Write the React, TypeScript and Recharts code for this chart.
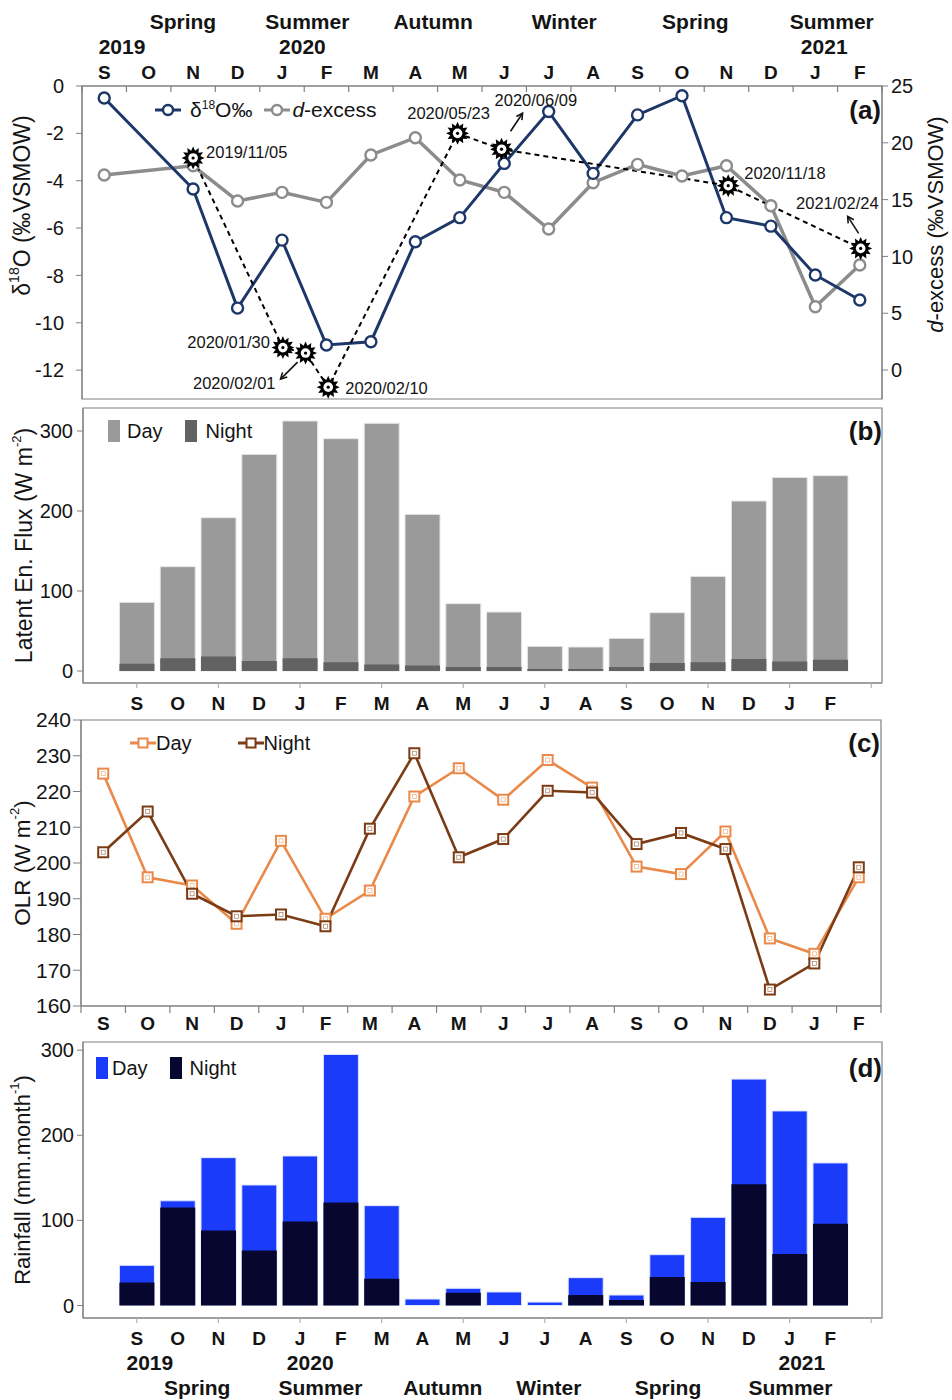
import React from 'react';
import { ComposedChart, Line, Bar, XAxis, YAxis, ReferenceArea, Legend } from 'recharts';

// ---------------- data ----------------
const months = ['S', 'O', 'N', 'D', 'J', 'F', 'M', 'A', 'M', 'J', 'J', 'A', 'S', 'O', 'N', 'D', 'J', 'F'];
const d18O = [-0.51, null, -4.35, -9.38, -6.51, -10.94, -10.8, -6.58, -5.56, -3.27, -1.08, -3.69, -1.22, -0.41, -5.56, -5.92, -7.98, -9.04];
const dExcess = [17.17, null, 17.98, 14.88, 15.64, 14.76, 18.93, 20.45, 16.73, 15.64, 12.41, 16.49, 18.1, 17.08, 17.98, 14.46, 5.57, 9.24];
const eventDates = ['2019/11/05', '2020/01/30', '2020/02/01', '2020/02/10', '2020/05/23', '2020/06/09', '2020/11/18', '2021/02/24'];
const eventMonthPos = [2.0, 4.02, 4.53, 5.04, 7.95, 8.94, 14.04, 17.02];
const eventD18O = [-3.04, -11.05, -11.28, -12.72, -2.0, -2.67, -4.21, -6.86];
const latentDay = [85.8, 130.4, 191.6, 270.8, 312.5, 290.4, 309.6, 195.8, 84.2, 73.7, 30.8, 30, 40.8, 72.9, 118.3, 212.5, 242, 244.2];
const latentNight = [9, 16, 18, 12.5, 16, 11, 8, 7, 5, 5, 2.5, 2.5, 5, 10, 11, 15, 12, 14];
const olrDay = [225, 196, 193.7, 183, 206.2, 184.4, 192.3, 218.6, 226.5, 217.7, 228.8, 221.1, 199, 196.9, 208.8, 178.9, 174.6, 196];
const olrNight = [203, 214.4, 191.4, 185.1, 185.6, 182.3, 209.6, 230.7, 201.6, 206.7, 220.2, 219.7, 205.3, 208.4, 203.9, 164.6, 171.9, 198.8];
const rainDay = [47.2, 123, 173.7, 141.6, 175.7, 295, 117.3, 7.6, 20.2, 15.9, 4, 32.7, 12.3, 59.7, 103.6, 266, 228.6, 167.5];
const rainNight = [27, 115, 88, 64.5, 98.7, 121, 31.3, 0, 15, 0, 0, 12.3, 6.5, 33.5, 27.6, 142.4, 60.5, 96];
const years = ['2019', '2020', '2021'];
const seasons = ['Spring', 'Summer', 'Autumn', 'Winter', 'Spring', 'Summer'];

// label placement (month-index units along the axis)
const TOP_YEAR_AT = [0.4, 4.46, 16.2];
const TOP_SEASON_AT = [1.77, 4.57, 7.4, 10.35, 13.3, 16.37];
const BOTTOM_YEAR_AT = [0.32, 4.25, 16.3];
const BOTTOM_SEASON_AT = [1.48, 4.5, 7.5, 10.1, 13.02, 16.02];

// ---------------- tables ----------------
const isoRows = months.map((m, i) => ({ x: i, month: m, d18O: d18O[i], dex: dExcess[i] }));
const eventRows = eventDates.map((d, i) => ({ x: eventMonthPos[i], v: eventD18O[i], date: d }));
const latentRows = months.map((m, i) => ({ x: i, month: m, day: latentDay[i], night: latentNight[i] }));
const olrRows = months.map((m, i) => ({ x: i, month: m, day: olrDay[i], night: olrNight[i] }));
const rainRows = months.map((m, i) => ({ x: i, month: m, day: rainDay[i], night: rainNight[i] }));

// ---------------- styles ----------------
const FONT = '"Liberation Sans", Arial, Helvetica, sans-serif';
const INK = '#141414';
const AXIS = '#808080';
const NAVY = '#1c3768';
const GRAY = '#8c8c8c';
const ORANGE = '#e98a4a';
const BROWN = '#7b3b14';
const LAT_DAY = '#9a9a9a';
const LAT_NIGHT = '#626262';
const RAIN_DAY = '#1a3cfa';
const RAIN_NIGHT = '#06062e';

const EVENT_LABEL: Record<string, { dx: number; dy: number; anchor: 'start' | 'middle' | 'end'; arrow?: number[] }> = {
  '2019/11/05': { dx: 13, dy: -6, anchor: 'start' },
  '2020/01/30': { dx: -13, dy: -6, anchor: 'end' },
  '2020/02/01': { dx: -30, dy: 30, anchor: 'end', arrow: [-8, 9, -25, 26] },
  '2020/02/10': { dx: 17, dy: 1, anchor: 'start' },
  '2020/05/23': { dx: -9, dy: -20, anchor: 'middle' },
  '2020/06/09': { dx: -7, dy: -49, anchor: 'start', arrow: [9, -18, 21, -36] },
  '2020/11/18': { dx: 16, dy: -13, anchor: 'start' },
  '2021/02/24': { dx: 18, dy: -45, anchor: 'end', arrow: [-2, -15, -13, -32] },
};

const near = (a: number, b: number) => Math.abs(a - b) < 1e-6;
const isCenter = (v: number) => near(v, Math.round(v));
const centers = months.map((_, i) => i);
const edges = [...months.map((_, i) => i - 0.5), months.length - 0.5];
const uniqSorted = (arr: number[]) => arr.filter((v, i) => arr.findIndex((w) => near(v, w)) === i).sort((a, b) => a - b);
const topTicks = uniqSorted([...edges, ...centers, ...TOP_YEAR_AT, ...TOP_SEASON_AT]);
const edgeAndCenterTicks = uniqSorted([...edges, ...centers]);
const barAxisTicks = uniqSorted([...centers, months.length]);
const bottomTicksD = uniqSorted([...centers, months.length, ...BOTTOM_YEAR_AT, ...BOTTOM_SEASON_AT]);

const findIn = (arr: number[], v: number) => arr.findIndex((a) => near(a, v));

// ---------------- custom ticks ----------------
const boldText = (x: number, y: number, s: string, size: number, key: string) => (
  <text key={key} x={x} y={y} textAnchor="middle" fontSize={size} fontWeight={700} fill={INK} fontFamily={FONT}>
    {s}
  </text>
);

const TopTickA = (props: any) => {
  const { x, y, payload } = props;
  const v = payload.value;
  const out: React.ReactNode[] = [];
  if (findIn(edges, v) >= 0) out.push(<line key="t" x1={x} y1={y} x2={x} y2={y + 6} stroke={AXIS} strokeWidth={1.2} />);
  if (isCenter(v) && v >= 0 && v < months.length) out.push(boldText(x, y - 7, months[Math.round(v)], 19, 'm'));
  const yi = findIn(TOP_YEAR_AT, v);
  if (yi >= 0) out.push(boldText(x, y - 32, years[yi], 21, 'y'));
  const si = findIn(TOP_SEASON_AT, v);
  if (si >= 0) out.push(boldText(x, y - 57, seasons[si], 21, 's'));
  return <g>{out}</g>;
};

const BottomEdgeMonthTick = (props: any) => {
  const { x, y, payload } = props;
  const v = payload.value;
  if (isCenter(v)) return boldText(x, y + 24, months[Math.round(v)], 19, 'm');
  return <line x1={x} y1={y} x2={x} y2={y + 7} stroke={AXIS} strokeWidth={1.2} />;
};

const BarMonthTick = (props: any) => {
  const { x, y, payload } = props;
  const v = payload.value;
  const out: React.ReactNode[] = [];
  if (isCenter(v)) {
    const i = Math.round(v);
    if (i % 2 === 0) out.push(<line key="t" x1={x} y1={y} x2={x} y2={y + 5} stroke="#b0b0b0" strokeWidth={1.2} />);
    if (i >= 0 && i < months.length) out.push(boldText(x, y + 27, months[i], 19, 'm'));
  }
  const yi = findIn(BOTTOM_YEAR_AT, v);
  if (yi >= 0) out.push(boldText(x, y + 52, years[yi], 21, 'y'));
  const si = findIn(BOTTOM_SEASON_AT, v);
  if (si >= 0) out.push(boldText(x, y + 77, seasons[si], 21, 's'));
  return <g>{out}</g>;
};

// ---------------- axis titles ----------------
const RotTitle = (props: any) => {
  const { viewBox, cxOff = 22, cyOff = 0, children, fontSize = 21 } = props;
  const { x, y, height } = viewBox || { x: 0, y: 0, height: 0 };
  const cx = x + cxOff;
  const cy = y + height / 2 + cyOff;
  return (
    <text
      x={cx}
      y={cy}
      transform={`rotate(-90 ${cx} ${cy})`}
      textAnchor="middle"
      dominantBaseline="central"
      fontSize={fontSize}
      fill={INK}
      fontFamily={FONT}
    >
      {children}
    </text>
  );
};

// ---------------- markers ----------------
const EventDot = (props: any) => {
  const { cx, cy, payload, index } = props;
  if (cx == null || cy == null) return <g key={`ev-${index}`} />;
  const st = EVENT_LABEL[payload.date];
  const pts: string[] = [];
  for (let k = 0; k < 24; k++) {
    const r = k % 2 === 0 ? 11.5 : 7.5;
    const a = (Math.PI * k) / 12 - Math.PI / 2;
    pts.push(`${(cx + r * Math.cos(a)).toFixed(2)},${(cy + r * Math.sin(a)).toFixed(2)}`);
  }
  let arrow = null;
  if (st && st.arrow) {
    const [x1, y1, x2, y2] = st.arrow;
    const ax1 = cx + x1, ay1 = cy + y1, ax2 = cx + x2, ay2 = cy + y2;
    const ang = Math.atan2(ay2 - ay1, ax2 - ax1);
    const h = 7;
    const l1 = `${ax2 - h * Math.cos(ang - 0.5)},${ay2 - h * Math.sin(ang - 0.5)}`;
    const l2 = `${ax2 - h * Math.cos(ang + 0.5)},${ay2 - h * Math.sin(ang + 0.5)}`;
    arrow = (
      <g stroke={INK} strokeWidth={1.6} fill="none">
        <line x1={ax1} y1={ay1} x2={ax2} y2={ay2} />
        <polyline points={`${l1} ${ax2},${ay2} ${l2}`} />
      </g>
    );
  }
  return (
    <g key={`ev-${index}`}>
      <polygon points={pts.join(' ')} fill="#000" />
      <circle cx={cx} cy={cy} r={4.8} fill="#fff" />
      <circle cx={cx} cy={cy} r={1.6} fill="#000" />
      {arrow}
      {st && (
        <text x={cx + st.dx} y={cy + st.dy} textAnchor={st.anchor} dominantBaseline="central" fontSize={16.5} fill={INK} fontFamily={FONT}>
          {payload.date}
        </text>
      )}
    </g>
  );
};

const circleDot = (color: string) => (props: any) => {
  const { cx, cy, index } = props;
  if (cx == null || cy == null) return <g key={`c-${index}`} />;
  return <circle key={`c-${index}`} cx={cx} cy={cy} r={5.5} fill="#fff" stroke={color} strokeWidth={2.4} />;
};

const squareDot = (color: string) => (props: any) => {
  const { cx, cy, index } = props;
  if (cx == null || cy == null) return <g key={`s-${index}`} />;
  return (
    <g key={`s-${index}`}>
      <rect x={cx - 5} y={cy - 5} width={10} height={10} fill="#fff" stroke={color} strokeWidth={2} />
      <rect x={cx - 2} y={cy - 2} width={4} height={4} fill="none" stroke={color} strokeWidth={0.8} opacity={0.6} />
    </g>
  );
};

// ---------------- legends ----------------
const legendRow = (items: React.ReactNode, letter: string) => () => (
  <div style={{ display: 'flex', alignItems: 'center', fontFamily: FONT, color: INK, height: 28, width: '100%' }}>
    {items}
    <span style={{ marginLeft: 'auto', fontWeight: 700, fontSize: 26 }}>{letter}</span>
  </div>
);

const lineIcon = (color: string, marker: 'circle' | 'square') => (
  <svg width={26} height={14} style={{ display: 'block' }}>
    <line x1={0} y1={7} x2={26} y2={7} stroke={color} strokeWidth={3} />
    {marker === 'circle' ? (
      <circle cx={13} cy={7} r={5} fill="#fff" stroke={color} strokeWidth={2.4} />
    ) : (
      <rect x={8.5} y={2.5} width={9} height={9} fill="#fff" stroke={color} strokeWidth={2} />
    )}
  </svg>
);

const boxIcon = (color: string) => <span style={{ display: 'inline-block', width: 12, height: 22, background: color }} />;

const legendA = legendRow(
  <>
    {lineIcon(NAVY, 'circle')}
    <span style={{ fontSize: 21, marginLeft: 9 }}>
      δ<span style={{ fontSize: 12, position: 'relative', top: -8 }}>18</span>O‰
    </span>
    <span style={{ width: 12 }} />
    {lineIcon(GRAY, 'circle')}
    <span style={{ fontSize: 21, marginLeft: 2 }}>
      <i>d</i>-excess
    </span>
  </>,
  '(a)'
);

const legendB = legendRow(
  <>
    {boxIcon(LAT_DAY)}
    <span style={{ fontSize: 20, marginLeft: 7 }}>Day</span>
    <span style={{ width: 22 }} />
    {boxIcon(LAT_NIGHT)}
    <span style={{ fontSize: 20, marginLeft: 9 }}>Night</span>
  </>,
  '(b)'
);

const legendC = legendRow(
  <>
    {lineIcon(ORANGE, 'square')}
    <span style={{ fontSize: 20, marginLeft: 0 }}>Day</span>
    <span style={{ width: 46 }} />
    {lineIcon(BROWN, 'square')}
    <span style={{ fontSize: 20, marginLeft: 0 }}>Night</span>
  </>,
  '(c)'
);

const legendD = legendRow(
  <>
    {boxIcon(RAIN_DAY)}
    <span style={{ fontSize: 20, marginLeft: 4 }}>Day</span>
    <span style={{ width: 22 }} />
    {boxIcon(RAIN_NIGHT)}
    <span style={{ fontSize: 20, marginLeft: 8 }}>Night</span>
  </>,
  '(d)'
);

const yTick = { fontSize: 20, fill: INK, fontFamily: FONT };
const yTickC = { fontSize: 21, fill: INK, fontFamily: FONT };

// ---------------- panels ----------------
const PanelA = () => (
  <ComposedChart width={952} height={400} margin={{ top: 0, right: 0, bottom: 1, left: 0 }}>
    <XAxis
      xAxisId="m"
      type="number"
      dataKey="x"
      orientation="top"
      domain={[-0.5, 17.5]}
      allowDataOverflow
      ticks={topTicks}
      interval={0}
      tick={TopTickA}
      tickSize={0}
      tickMargin={0}
      tickLine={false}
      axisLine={{ stroke: AXIS }}
      height={86}
    />
    <YAxis
      yAxisId="l"
      type="number"
      domain={[-13.22, 0]}
      allowDataOverflow
      ticks={[-12, -10, -8, -6, -4, -2, 0]}
      interval={0}
      width={82}
      tick={yTick}
      tickSize={6}
      tickMargin={12}
      tickLine={{ stroke: AXIS }}
      axisLine={{ stroke: AXIS }}
      label={
        <RotTitle cxOff={22} cyOff={-37} fontSize={23}>
          δ<tspan dy={-8} fontSize={14}>18</tspan>
          <tspan dy={8}>O (‰VSMOW)</tspan>
        </RotTitle>
      }
    />
    <YAxis
      yAxisId="r"
      orientation="right"
      type="number"
      domain={[-2.55, 25]}
      allowDataOverflow
      ticks={[0, 5, 10, 15, 20, 25]}
      interval={0}
      width={70}
      tick={yTick}
      tickSize={6}
      tickMargin={3}
      tickLine={{ stroke: AXIS }}
      axisLine={{ stroke: AXIS }}
      label={
        <RotTitle cxOff={53} cyOff={-18} fontSize={22}>
          <tspan fontStyle="italic">d</tspan>-excess (‰VSMOW)
        </RotTitle>
      }
    />
    <ReferenceArea xAxisId="m" yAxisId="l" x1={-0.5} x2={17.5} y1={-13.22} y2={0} fill="none" stroke={AXIS} strokeWidth={1.2} ifOverflow="visible" />
    <Line
      data={isoRows}
      xAxisId="m"
      yAxisId="r"
      dataKey="dex"
      stroke={GRAY}
      strokeWidth={3.5}
      connectNulls
      dot={circleDot(GRAY)}
      isAnimationActive={false}
    />
    <Line
      data={isoRows}
      xAxisId="m"
      yAxisId="l"
      dataKey="d18O"
      stroke={NAVY}
      strokeWidth={3}
      connectNulls
      dot={circleDot(NAVY)}
      isAnimationActive={false}
    />
    <Line
      data={eventRows}
      xAxisId="m"
      yAxisId="l"
      dataKey="v"
      stroke="#000"
      strokeWidth={2}
      strokeDasharray="5 4"
      dot={EventDot}
      isAnimationActive={false}
    />
    <Legend
      layout="horizontal"
      verticalAlign="middle"
      align="center"
      content={legendA}
      wrapperStyle={{ left: 155, top: 96, width: 726, height: 28 }}
    />
  </ComposedChart>
);

const PanelB = () => (
  <ComposedChart width={952} height={315} data={latentRows} margin={{ top: 8, right: 70, bottom: 0, left: 0 }}>
    <XAxis
      xAxisId="m"
      type="number"
      dataKey="x"
      domain={[-1.319, 18.265]}
      allowDataOverflow
      ticks={barAxisTicks}
      interval={0}
      tick={BarMonthTick}
      tickSize={0}
      tickMargin={0}
      tickLine={false}
      axisLine={{ stroke: AXIS }}
      height={32}
    />
    <XAxis xAxisId="m2" type="number" dataKey="x" domain={[-1.319, 18.265]} allowDataOverflow hide />
    <YAxis
      yAxisId="y"
      type="number"
      domain={[-15, 328.75]}
      allowDataOverflow
      ticks={[0, 100, 200, 300]}
      interval={0}
      width={83}
      tick={yTick}
      tickSize={6}
      tickMargin={4}
      tickLine={{ stroke: AXIS }}
      axisLine={{ stroke: AXIS }}
      label={
        <RotTitle cxOff={24} fontSize={23}>
          Latent En. Flux (W m<tspan dy={-8} fontSize={13}>-2</tspan>
          <tspan dy={8}>)</tspan>
        </RotTitle>
      }
    />
    <ReferenceArea xAxisId="m" yAxisId="y" x1={-1.319} x2={18.265} y1={-15} y2={328.75} fill="none" stroke={AXIS} strokeWidth={1.2} ifOverflow="visible" />
    <Bar xAxisId="m" yAxisId="y" dataKey="day" fill={LAT_DAY} stroke="#e6e6e6" strokeWidth={1} barSize={35} isAnimationActive={false} />
    <Bar xAxisId="m2" yAxisId="y" dataKey="night" fill={LAT_NIGHT} barSize={35} isAnimationActive={false} />
    <Legend
      layout="horizontal"
      verticalAlign="middle"
      align="center"
      content={legendB}
      wrapperStyle={{ left: 108, top: 17, width: 774, height: 28 }}
    />
  </ComposedChart>
);

const PanelC = () => (
  <ComposedChart width={952} height={334} data={olrRows} margin={{ top: 20, right: 71, bottom: 0, left: 0 }}>
    <XAxis
      xAxisId="m"
      type="number"
      dataKey="x"
      domain={[-0.5, 17.5]}
      allowDataOverflow
      ticks={edgeAndCenterTicks}
      interval={0}
      tick={BottomEdgeMonthTick}
      tickSize={0}
      tickMargin={0}
      tickLine={false}
      axisLine={{ stroke: AXIS }}
      height={28}
    />
    <YAxis
      yAxisId="y"
      type="number"
      domain={[160, 240]}
      allowDataOverflow
      ticks={[160, 170, 180, 190, 200, 210, 220, 230, 240]}
      interval={0}
      width={81}
      tick={yTickC}
      tickSize={8}
      tickMargin={2}
      tickLine={{ stroke: AXIS }}
      axisLine={{ stroke: AXIS }}
      label={
        <RotTitle cxOff={22} fontSize={22.5}>
          OLR (W m<tspan dy={-8} fontSize={13}>-2</tspan>
          <tspan dy={8}>)</tspan>
        </RotTitle>
      }
    />
    <ReferenceArea xAxisId="m" yAxisId="y" x1={-0.5} x2={17.5} y1={160} y2={240} fill="none" stroke={AXIS} strokeWidth={1.2} ifOverflow="visible" />
    <Line xAxisId="m" yAxisId="y" dataKey="day" stroke={ORANGE} strokeWidth={2.6} dot={squareDot(ORANGE)} isAnimationActive={false} />
    <Line xAxisId="m" yAxisId="y" dataKey="night" stroke={BROWN} strokeWidth={2.6} dot={squareDot(BROWN)} isAnimationActive={false} />
    <Legend
      layout="horizontal"
      verticalAlign="middle"
      align="center"
      content={legendC}
      wrapperStyle={{ left: 130, top: 29, width: 750, height: 28 }}
    />
  </ComposedChart>
);

const PanelD = () => (
  <ComposedChart width={952} height={364} data={rainRows} margin={{ top: 6, right: 70, bottom: 0, left: 0 }}>
    <XAxis
      xAxisId="m"
      type="number"
      dataKey="x"
      domain={[-1.319, 18.265]}
      allowDataOverflow
      ticks={bottomTicksD}
      interval={0}
      tick={BarMonthTick}
      tickSize={0}
      tickMargin={0}
      tickLine={false}
      axisLine={{ stroke: AXIS }}
      height={82}
    />
    <XAxis xAxisId="m2" type="number" dataKey="x" domain={[-1.319, 18.265]} allowDataOverflow hide />
    <YAxis
      yAxisId="y"
      type="number"
      domain={[-14.7, 309.6]}
      allowDataOverflow
      ticks={[0, 100, 200, 300]}
      interval={0}
      width={83}
      tick={yTick}
      tickSize={6}
      tickMargin={3}
      tickLine={{ stroke: AXIS }}
      axisLine={{ stroke: AXIS }}
      label={
        <RotTitle cxOff={22} fontSize={22}>
          Rainfall (mm.month<tspan dy={-8} fontSize={13}>-1</tspan>
          <tspan dy={8}>)</tspan>
        </RotTitle>
      }
    />
    <ReferenceArea xAxisId="m" yAxisId="y" x1={-1.319} x2={18.265} y1={-14.7} y2={309.6} fill="none" stroke={AXIS} strokeWidth={1.2} ifOverflow="visible" />
    <Bar xAxisId="m" yAxisId="y" dataKey="day" fill={RAIN_DAY} stroke="#dfe6ff" strokeWidth={1} barSize={35} isAnimationActive={false} />
    <Bar xAxisId="m2" yAxisId="y" dataKey="night" fill={RAIN_NIGHT} barSize={35} isAnimationActive={false} />
    <Legend
      layout="horizontal"
      verticalAlign="middle"
      align="center"
      content={legendD}
      wrapperStyle={{ left: 96, top: 18, width: 786, height: 28 }}
    />
  </ComposedChart>
);

export default function App() {
  return (
    <div style={{ position: 'absolute', left: 0, top: 0, width: 952, height: 1400, background: '#fff', fontFamily: FONT }}>
      <div style={{ position: 'absolute', left: 0, top: 0 }}>
        <PanelA />
      </div>
      <div style={{ position: 'absolute', left: 0, top: 400 }}>
        <PanelB />
      </div>
      <div style={{ position: 'absolute', left: 0, top: 700 }}>
        <PanelC />
      </div>
      <div style={{ position: 'absolute', left: 0, top: 1036 }}>
        <PanelD />
      </div>
    </div>
  );
}
